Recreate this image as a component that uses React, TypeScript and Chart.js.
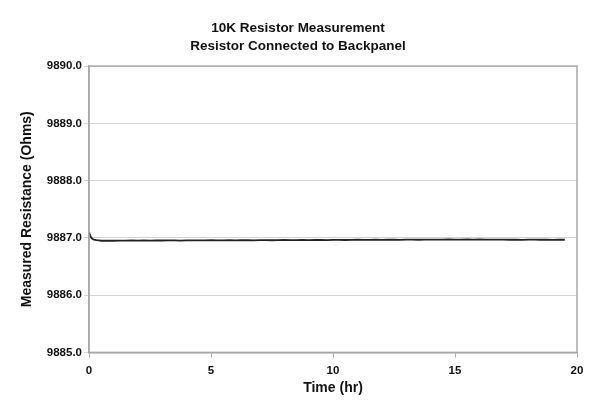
import React, { useEffect, useRef } from "react";
import { Chart, registerables } from "chart.js";

Chart.register(...registerables);

const titleLines = ["10K Resistor Measurement", "Resistor Connected to Backpanel"];
const xTitle = "Time (hr)";
const yTitle = "Measured Resistance (Ohms)";

const timeHr = [
  0, 0.05, 0.1, 0.15, 0.2, 0.3, 0.4, 0.5,
  0.75, 1.0, 1.25, 1.5, 1.75, 2.0, 2.25, 2.5, 2.75, 3.0,
  3.25, 3.5, 3.75, 4.0, 4.25, 4.5, 4.75, 5.0, 5.25, 5.5,
  5.75, 6.0, 6.25, 6.5, 6.75, 7.0, 7.25, 7.5, 7.75, 8.0,
  8.25, 8.5, 8.75, 9.0, 9.25, 9.5, 9.75, 10.0, 10.25, 10.5,
  10.75, 11.0, 11.25, 11.5, 11.75, 12.0, 12.25, 12.5, 12.75, 13.0,
  13.25, 13.5, 13.75, 14.0, 14.25, 14.5, 14.75, 15.0, 15.25, 15.5,
  15.75, 16.0, 16.25, 16.5, 16.75, 17.0, 17.25, 17.5, 17.75, 18.0,
  18.25, 18.5, 18.75, 19.0, 19.25, 19.5,
];

const resistanceOhms = [
  9887.10, 9887.04, 9887.00, 9886.98, 9886.97, 9886.96, 9886.955, 9886.95,
  9886.952, 9886.950, 9886.953, 9886.951, 9886.954, 9886.952, 9886.955, 9886.953, 9886.956, 9886.954,
  9886.957, 9886.955, 9886.953, 9886.956, 9886.958, 9886.955, 9886.957, 9886.959, 9886.956, 9886.958,
  9886.960, 9886.957, 9886.959, 9886.961, 9886.958, 9886.960, 9886.962, 9886.959, 9886.961, 9886.963,
  9886.960, 9886.962, 9886.964, 9886.961, 9886.963, 9886.965, 9886.962, 9886.964, 9886.966, 9886.963,
  9886.965, 9886.967, 9886.964, 9886.966, 9886.968, 9886.965, 9886.967, 9886.969, 9886.966, 9886.968,
  9886.970, 9886.967, 9886.969, 9886.971, 9886.968, 9886.970, 9886.972, 9886.969, 9886.971, 9886.973,
  9886.970, 9886.972, 9886.969, 9886.971, 9886.968, 9886.970, 9886.967, 9886.969, 9886.966, 9886.968,
  9886.970, 9886.967, 9886.969, 9886.966, 9886.968, 9886.967,
];

const xMin = 0;
const xMax = 20;
const xStep = 5;
const yMin = 9885;
const yMax = 9890;
const yStep = 1;

const FONT = "'Liberation Sans', Arial, sans-serif";

const frame = {
  id: "plotFrame",
  afterDraw(chart: any) {
    const { ctx, chartArea } = chart;
    ctx.save();
    ctx.strokeStyle = "#a8a8a8";
    ctx.lineWidth = 1.5;
    ctx.strokeRect(chartArea.left, chartArea.top, chartArea.right - chartArea.left, chartArea.bottom - chartArea.top);
    ctx.restore();
  },
};

export default function App() {
  const ref = useRef<HTMLCanvasElement | null>(null);

  useEffect(() => {
    if (!ref.current) return;
    const points = timeHr.map((t, i) => ({ x: t, y: resistanceOhms[i] }));
    const chart = new Chart(ref.current, {
      type: "line",
      data: {
        datasets: [
          {
            data: points,
            borderColor: "#222222",
            borderWidth: 1.8,
            pointRadius: 0,
            tension: 0,
            fill: false,
          },
        ],
      },
      options: {
        animation: false,
        responsive: false,
        maintainAspectRatio: false,
        layout: { padding: { left: 19, right: 23, top: 0, bottom: 13 } },
        plugins: {
          legend: { display: false },
          tooltip: { enabled: false },
          title: {
            display: true,
            text: titleLines,
            color: "#111",
            font: { family: FONT, size: 13.5, weight: "bold", lineHeight: 1.3 },
            padding: { top: 20, bottom: 11 },
          },
        },
        scales: {
          x: {
            type: "linear",
            min: xMin,
            max: xMax,
            ticks: {
              stepSize: xStep,
              color: "#111",
              font: { family: FONT, size: 11.5, weight: "bold" },
              padding: 7,
              maxRotation: 0,
            },
            grid: { drawOnChartArea: false, drawTicks: true, tickLength: 5, color: "#a8a8a8" },
            border: { display: true, color: "#a8a8a8", width: 1.5 },
            title: {
              display: true,
              text: xTitle,
              color: "#111",
              font: { family: FONT, size: 14, weight: "bold" },
              padding: { top: -5, bottom: 0 },
            },
          },
          y: {
            type: "linear",
            min: yMin,
            max: yMax,
            afterFit: (scale: any) => {
              scale.width = 70;
            },
            ticks: {
              stepSize: yStep,
              color: "#111",
              font: { family: FONT, size: 11.5, weight: "bold" },
              padding: 2,
              callback: (v: any) => Number(v).toFixed(1),
            },
            grid: { color: "#d4d4d4", lineWidth: 1, drawTicks: true, tickLength: 5 },
            border: { display: true, color: "#a8a8a8", width: 1.5 },
            title: {
              display: true,
              text: yTitle,
              color: "#111",
              font: { family: FONT, size: 14, weight: "bold" },
              padding: { top: 0, bottom: 4 },
            },
          },
        },
      },
      plugins: [frame],
    });
    return () => chart.destroy();
  }, []);

  return (
    <div style={{ position: "fixed", left: 0, top: 0, width: 600, height: 410, background: "#fff" }}>
      <canvas ref={ref} width={600} height={410} style={{ width: 600, height: 410 }} />
    </div>
  );
}
